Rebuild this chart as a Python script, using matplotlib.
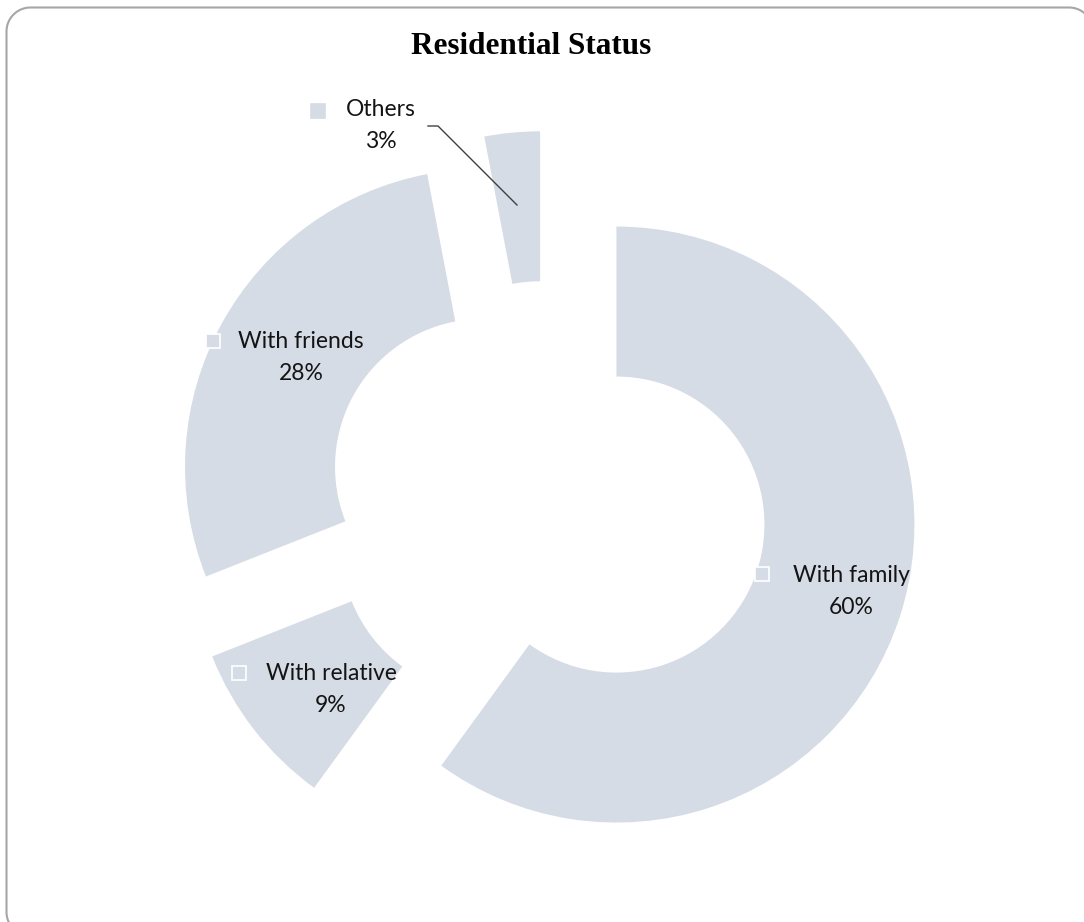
import matplotlib
matplotlib.use("Agg")
import numpy as np
import matplotlib.pyplot as plt

# residential status shares (percent)
categories = ['With family', 'With relative', 'With friends', 'Others']
shares = [60, 9, 28, 3]

W, H = 1084, 922
slice_color = '#D6DCE5'
text_color = '#141414'

fig = plt.figure(figsize=(W / 100, H / 100), dpi=100)
ax = fig.add_axes([0, 0, 1, 1])

# pixel-like data space, y measured upward
R = 298
hole = 150
center = (547, H - 502)
ax.pie(shares, radius=R, center=center, startangle=90, counterclock=False,
       explode=[73] * len(shares), colors=[slice_color] * len(shares),
       wedgeprops=dict(width=hole, linewidth=0))

ax.set_xlim(0, W)
ax.set_ylim(0, H)
ax.set_aspect('equal')
ax.axis('off')

# label text position (first line), and key square position, in pixels from top-left
label_pos = {
    'With family': (851, 576, 762, 574),
    'With relative': (331, 673, 239, 673),
    'With friends': (301, 342, 213, 341),
    'Others': (381, 110, 318, 111),
}
font = ['Lato', 'DejaVu Sans']
for name, val in zip(categories, shares):
    tx, ty, sx, sy = label_pos[name]
    ax.text(tx, H - ty, name, ha='center', va='center', fontsize=16.5,
            family=font, color=text_color)
    ax.text(tx, H - ty - 32, f'{val}%', ha='center', va='center', fontsize=16.5,
            family=font, color=text_color)
    edge = 'white' if name != 'Others' else slice_color
    ax.plot(sx, H - sy, marker='s', markersize=9.5, markerfacecolor=slice_color,
            markeredgecolor=edge, markeredgewidth=1.2, linestyle='none')

# leader line for the small slice
ax.plot([428, 438, 517], [H - 126, H - 126, H - 205], color='#404040', linewidth=1.0)

ax.text(531, H - 47, 'Residential Status', ha='center', va='center',
        fontsize=22.5, fontweight='bold', family='Liberation Serif', color='black')

# rounded chart border, running off the right and bottom edges
def rounded_box(x0, y0, x1, y1, r, n=30):
    pts = []
    corners = [(x1 - r, y1 - r, 0), (x0 + r, y1 - r, 90),
               (x0 + r, y0 + r, 180), (x1 - r, y0 + r, 270)]
    for cx, cy, a in corners:
        t = np.radians(np.linspace(a, a + 90, n))
        pts.append(np.column_stack([cx + r * np.cos(t), cy + r * np.sin(t)]))
    pts = np.vstack(pts + [pts[0][:1]])
    return pts[:, 0], pts[:, 1]

bx, by = rounded_box(6.5, H - 936, 1093, H - 7.5, 24)
ax.plot(bx, by, color='#A6A6A6', linewidth=1.5, clip_on=False)

fig.savefig('out.png', dpi=100)
